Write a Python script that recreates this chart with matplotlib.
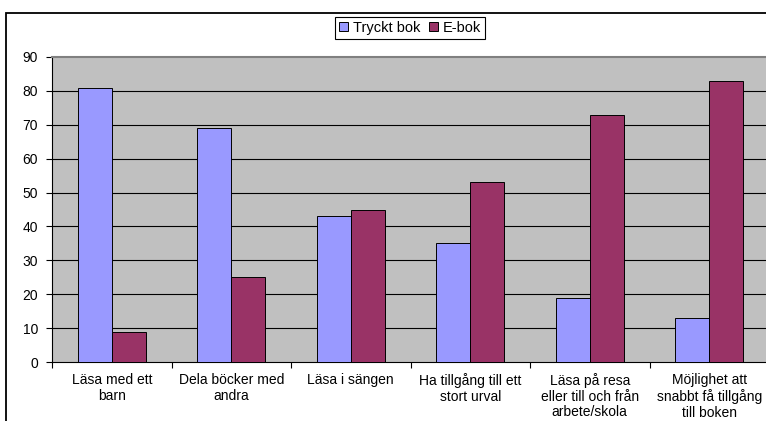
import matplotlib

matplotlib.use("Agg")
import matplotlib.pyplot as plt
import numpy as np
from matplotlib.patches import Rectangle

plt.rcParams["font.family"] = ["Liberation Sans", "DejaVu Sans"]
plt.rcParams["font.size"] = 10

categories = [
    "Läsa med ett\nbarn",
    "Dela böcker med\nandra",
    "Läsa i sängen",
    "Ha tillgång till ett\nstort urval",
    "Läsa på resa\neller till och från\narbete/skola",
    "Möjlighet att\nsnabbt få tillgång\ntill boken",
]
tryckt = [81, 69, 43, 35, 19, 13]
ebok = [9, 25, 45, 53, 73, 83]
series_names = ["Tryckt bok", "E-bok"]
y_ticks = list(range(0, 91, 10))

W, H = 766, 421
fig = plt.figure(figsize=(W / 100, H / 100), dpi=100)
fig.patch.set_facecolor("white")

# outer chart border (cropped on right/bottom in the original)
fig.patches.append(
    Rectangle((5.5 / W, -0.2), 1.2, 1.2 - 13 / H, transform=fig.transFigure,
              fill=False, edgecolor="black", linewidth=1.3)
)

ax = fig.add_axes([52 / W, (H - 362) / H, (769 - 52) / W, (362 - 57) / H])
ax.set_facecolor("#C0C0C0")

x = np.arange(len(categories))
bw = 0.285
b1 = ax.bar(x - bw / 2, tryckt, bw, color="#9999FF", edgecolor="black", linewidth=0.7, zorder=3)
b2 = ax.bar(x + bw / 2, ebok, bw, color="#993366", edgecolor="black", linewidth=0.7, zorder=3)

ax.set_xlim(-0.5, len(categories) - 0.5)
ax.set_ylim(0, 90)
ax.set_yticks(y_ticks)
for v in y_ticks[1:-1]:
    ax.axhline(v, color="black", linewidth=0.8, zorder=1)

ax.set_xticks(np.arange(len(categories) + 1) - 0.5)
ax.set_xticklabels([])
ax.set_xticks(x, minor=True)
ax.set_xticklabels(categories, minor=True, ha="center", linespacing=1.15)
ax.tick_params(axis="x", which="major", direction="out", length=4, width=0.8, color="black")
ax.tick_params(axis="x", which="minor", length=0, pad=8)
ax.tick_params(axis="y", direction="out", length=4, width=0.8, pad=6)

ax.spines["left"].set_color("black")
ax.spines["bottom"].set_color("black")
ax.spines["top"].set_color("#808080")
ax.spines["top"].set_linewidth(1.5)
ax.spines["right"].set_visible(False)

leg = fig.legend(
    [b1, b2], series_names, loc="center", bbox_to_anchor=(410 / W, 1 - 28 / H),
    ncol=2, frameon=True, fancybox=False, edgecolor="black", framealpha=1,
    fontsize=10.5, handlelength=0.6, handleheight=0.6, handletextpad=0.35,
    columnspacing=0.6, borderpad=0.3, borderaxespad=0,
)
leg.get_frame().set_linewidth(0.8)

fig.savefig("out.png", dpi=100)
